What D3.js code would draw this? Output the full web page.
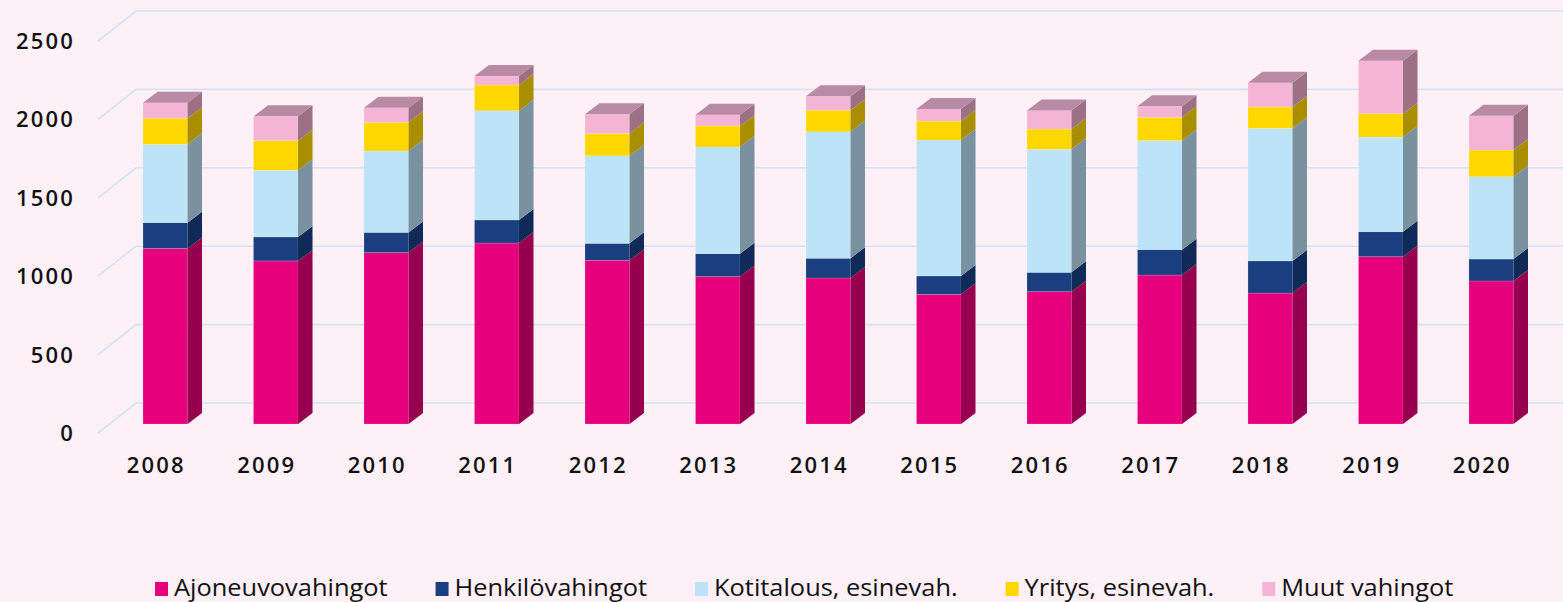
<!DOCTYPE html>
<html>
<head>
<meta charset="utf-8">
<script src="https://cdn.jsdelivr.net/npm/d3@7"></script>
<style>
  html, body { margin: 0; padding: 0; background: #FDF0F6; }
  svg { display: block; }
</style>
</head>
<body>
<svg id="chart" width="1563" height="602"></svg>
<script>
// ---------------- DATA ----------------
const years = ["2008","2009","2010","2011","2012","2013","2014","2015","2016","2017","2018","2019","2020"];
const seriesNames = ["Ajoneuvovahingot","Henkilövahingot","Kotitalous, esinevah.","Yritys, esinevah.","Muut vahingot"];
const ajoneuvovahingot = [1120,1040,1093,1154,1044,940,931,827,844,950,835,1067,912];
const henkilovahingot  = [164,153,129,147,108,146,126,117,123,162,205,159,140];
const kotitalous       = [500,425,519,697,559,681,807,867,785,695,846,604,525];
const yritys           = [166,189,183,164,141,134,137,121,129,149,136,149,170];
const muutVahingot     = [99,155,93,57,123,72,89,77,119,70,155,338,219];
const yTicks = [0,500,1000,1500,2000,2500];

// colours: front face, side face, top face
const frontColors = ["#E6007E","#1A3F7E","#BDE3F8","#FFD700","#F4B4D3"];
const sideColors  = ["#97004F","#0F2A56","#7A919F","#A98F00","#9C7186"];
const topColors   = ["#B0306E","#2C4F85","#A9C6D6","#C9AE2A","#B98AA3"];

// ---------------- LAYOUT ----------------
const svg = d3.select("#chart");
const W = 1563;
const wallLeft = 136;
const wallDX = -38, wallDY = 30;
const barDY = 21;
const depthDX = 14.5, depthDY = -11;

const yBack = d3.scaleLinear().domain([0, 2500]).range([403, 11]);
const x = d3.scaleBand().domain(years).range([143, 1513.5]).paddingInner(0.597).paddingOuter(0);

const table = years.map((yr, i) => ({
  year: yr,
  s0: ajoneuvovahingot[i], s1: henkilovahingot[i], s2: kotitalous[i], s3: yritys[i], s4: muutVahingot[i]
}));
const keys = ["s0","s1","s2","s3","s4"];
const stacked = d3.stack().keys(keys)(table);

// ---------------- GRID ----------------
const grid = svg.append("g");
yTicks.forEach(t => {
  const yb = yBack(t);
  grid.append("path")
    .attr("d", `M${wallLeft + wallDX},${yb + wallDY} L${wallLeft},${yb} L${W},${yb}`)
    .attr("fill", "none")
    .attr("stroke", "#D3E2F4")
    .attr("stroke-width", 1.6);
});

// y axis labels (front plane)
svg.append("g").selectAll("text").data(yTicks).join("text")
  .attr("x", 75)
  .attr("y", d => yBack(d) + wallDY + 8)
  .attr("text-anchor", "end")
  .attr("font-family", "'Open Sans', sans-serif")
  .attr("font-weight", 600)
  .attr("font-size", 22)
  .attr("letter-spacing", 2.2)
  .attr("fill", "#111")
  .text(d => d);

// ---------------- BARS ----------------
const yFront = v => yBack(v) + barDY;
const bw = x.bandwidth();
const barsG = svg.append("g");
years.forEach((yr, i) => {
  const g = barsG.append("g");
  const x0 = x(yr), x1 = x0 + bw;
  stacked.forEach((layer, k) => {
    const d = layer[i];
    const yt = yFront(d[1]), yb = yFront(d[0]);
    g.append("rect")
      .attr("x", x0).attr("y", yt)
      .attr("width", bw).attr("height", yb - yt)
      .attr("fill", frontColors[k])
      .attr("stroke", "rgba(255,255,255,0.25)").attr("stroke-width", 0.6);
    g.append("path")
      .attr("d", `M${x1},${yb} L${x1 + depthDX},${yb + depthDY} L${x1 + depthDX},${yt + depthDY} L${x1},${yt} Z`)
      .attr("fill", sideColors[k]);
  });
  const topLayer = stacked[stacked.length - 1][i];
  const yt = yFront(topLayer[1]);
  g.append("path")
    .attr("d", `M${x0},${yt} L${x0 + depthDX},${yt + depthDY} L${x1 + depthDX},${yt + depthDY} L${x1},${yt} Z`)
    .attr("fill", topColors[stacked.length - 1]);
});

// ---------------- X AXIS LABELS ----------------
svg.append("g").selectAll("text").data(years).join("text")
  .attr("x", d => x(d) + bw / 2 - 9)
  .attr("y", 473)
  .attr("text-anchor", "middle")
  .attr("font-family", "'Open Sans', sans-serif")
  .attr("font-weight", 600)
  .attr("font-size", 22)
  .attr("letter-spacing", 2.2)
  .attr("fill", "#111")
  .text(d => d);

// ---------------- LEGEND ----------------
const legend = svg.append("g");
let lx = 155;
const widthScale = 1.058;
seriesNames.forEach((name, k) => {
  legend.append("rect")
    .attr("x", lx).attr("y", 582)
    .attr("width", 13).attr("height", 14)
    .attr("fill", frontColors[k]);
  const t = legend.append("text")
    .attr("x", lx + 19)
    .attr("y", 596)
    .attr("font-family", "'Open Sans', sans-serif")
    .attr("font-weight", 500)
    .attr("font-size", 24)
    .attr("fill", "#111")
    .text(name);
  const nat = t.node().getComputedTextLength();
  const w = nat * widthScale;
  t.attr("textLength", w).attr("lengthAdjust", "spacingAndGlyphs");
  lx = lx + 19 + w + 48;
});
</script>
</body>
</html>
